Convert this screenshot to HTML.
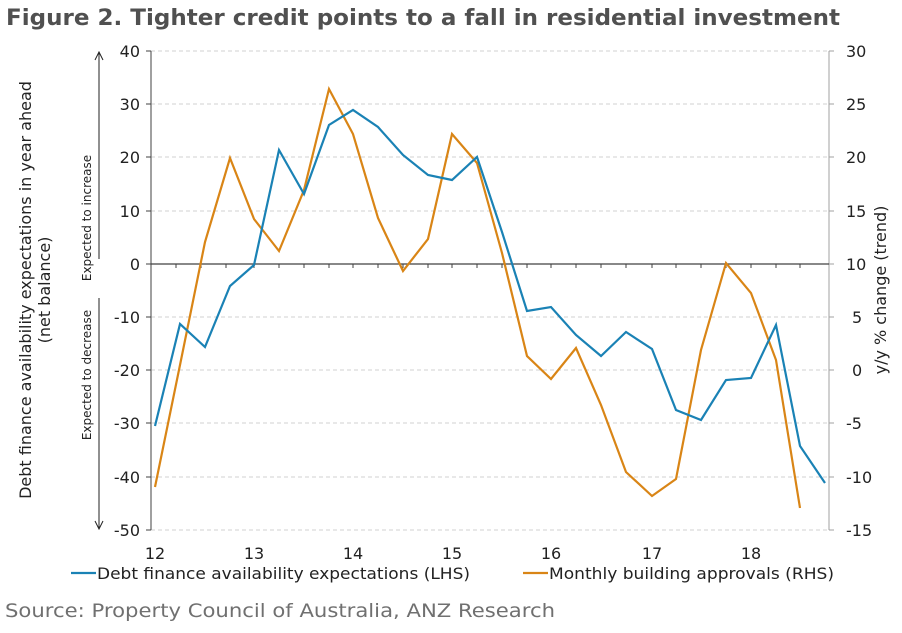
<!DOCTYPE html>
<html><head><meta charset="utf-8"><style>
body{margin:0;background:#fff;width:902px;height:629px;overflow:hidden;font-family:"DejaVu Sans","Liberation Sans",sans-serif}
</style></head><body>
<svg width="902" height="629" xmlns="http://www.w3.org/2000/svg" font-family="DejaVu Sans, Liberation Sans, sans-serif">
<text x="6" y="25" font-size="22" font-weight="bold" fill="#505050" textLength="834" lengthAdjust="spacingAndGlyphs">Figure 2. Tighter credit points to a fall in residential investment</text>
<g stroke="#d0d0d0" stroke-dasharray="4,3" stroke-width="1">
<line x1="151" x2="829" y1="51" y2="51"/><line x1="151" x2="829" y1="104" y2="104"/>
<line x1="151" x2="829" y1="157" y2="157"/><line x1="151" x2="829" y1="211" y2="211"/>
<line x1="151" x2="829" y1="317" y2="317"/><line x1="151" x2="829" y1="370" y2="370"/>
<line x1="151" x2="829" y1="423" y2="423"/><line x1="151" x2="829" y1="477" y2="477"/>
<line x1="151" x2="829" y1="530" y2="530"/>
</g>
<line x1="151" y1="51" x2="151" y2="530" stroke="#808080" stroke-width="1.5"/>
<line x1="829" y1="51" x2="829" y2="530" stroke="#a0a0a0" stroke-width="1"/>
<line x1="151" y1="264" x2="829" y2="264" stroke="#404040" stroke-width="1.2"/>
<g stroke="#404040" stroke-width="1">
<path d="M176 264v4M201 264v4M226 264v4M254 264v4M279 264v4M304 264v4M329 264v4M353 264v4M378 264v4M403 264v4M428 264v4M452 264v4M477 264v4M502 264v4M527 264v4M551 264v4M576 264v4M601 264v4M626 264v4M652 264v4M676 264v4M701 264v4M726 264v4M751 264v4M776 264v4M800 264v4"/>
<path d="M146 51h5M146 104h5M146 157h5M146 211h5M146 264h5M146 317h5M146 370h5M146 423h5M146 477h5M146 530h5"/>
<path d="M829 51h5M829 104h5M829 157h5M829 211h5M829 264h5M829 317h5M829 370h5M829 423h5M829 477h5M829 530h5" stroke="#a0a0a0"/>
</g>
<g font-size="16" fill="#222" text-anchor="end">
<text x="140" y="57">40</text><text x="140" y="110">30</text><text x="140" y="163">20</text><text x="140" y="217">10</text><text x="140" y="270">0</text><text x="140" y="323">-10</text><text x="140" y="376">-20</text><text x="140" y="429">-30</text><text x="140" y="483">-40</text><text x="140" y="536">-50</text>
</g>
<g font-size="16" fill="#222" text-anchor="start">
<text x="846" y="57">30</text><text x="846" y="110">25</text><text x="846" y="163">20</text><text x="846" y="217">15</text><text x="846" y="270">10</text><text x="852" y="323">5</text><text x="852" y="376">0</text><text x="846" y="429">-5</text><text x="846" y="483">-10</text><text x="846" y="536">-15</text>
</g>
<g font-size="16" fill="#222" text-anchor="middle">
<text x="155" y="559">12</text><text x="254" y="559">13</text><text x="353" y="559">14</text><text x="452" y="559">15</text><text x="551" y="559">16</text><text x="652" y="559">17</text><text x="751" y="559">18</text>
</g>
<text transform="translate(31,290) rotate(-90)" font-size="16" fill="#222" text-anchor="middle">Debt finance availability expectations in year ahead</text>
<text transform="translate(50,290) rotate(-90)" font-size="16" fill="#222" text-anchor="middle">(net balance)</text>
<text transform="translate(886,290) rotate(-90)" font-size="16" fill="#222" text-anchor="middle">y/y % change (trend)</text>
<text transform="translate(91,218) rotate(-90)" font-size="12" fill="#222" text-anchor="middle">Expected to increase</text>
<text transform="translate(91,375) rotate(-90)" font-size="12" fill="#222" text-anchor="middle">Expected to decrease</text>
<g stroke="#222" stroke-width="1" fill="none">
<path d="M99 259V52M95 60l4-8 4 8"/>
<path d="M99 298V529M95 521l4 8 4-8"/>
</g>
<polyline fill="none" stroke="#d98516" stroke-width="2.2" points="155,487 180,365 205,242 230,158 254,219 279,251 304,190 329,89 353,134 378,218 403,271 428,239 452,134 477,163 502,253 527,356 551,379 576,348 601,405 626,472 652,496 676,479 701,350 726,263 751,293 776,360 800,508"/>
<polyline fill="none" stroke="#1a82b5" stroke-width="2.2" points="155,426 180,324 205,347 230,286 254,265 279,150 304,194 329,125 353,110 378,127 403,155 428,175 452,180 477,157 502,232 527,311 551,307 576,335 601,356 626,332 652,349 676,410 701,420 726,380 751,378 776,325 800,446 825,483"/>
<line x1="71" y1="573" x2="96" y2="573" stroke="#1a82b5" stroke-width="2.2"/>
<text x="97" y="579" font-size="16" fill="#222" textLength="373" lengthAdjust="spacingAndGlyphs">Debt finance availability expectations (LHS)</text>
<line x1="523" y1="573" x2="548" y2="573" stroke="#d98516" stroke-width="2.2"/>
<text x="549" y="579" font-size="16" fill="#222" textLength="285" lengthAdjust="spacingAndGlyphs">Monthly building approvals (RHS)</text>
<text x="5" y="617" font-size="19" fill="#707070" textLength="550" lengthAdjust="spacingAndGlyphs">Source: Property Council of Australia, ANZ Research</text>
</svg>
</body></html>
